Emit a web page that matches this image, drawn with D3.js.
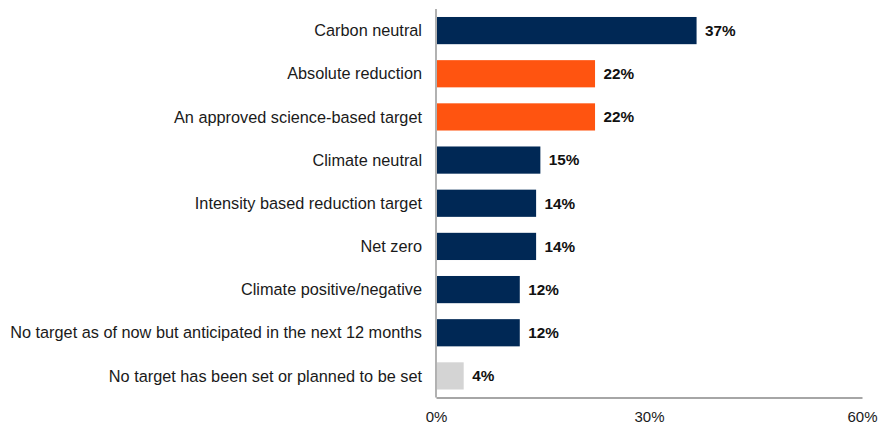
<!DOCTYPE html>
<html><head><meta charset="utf-8">
<script src="https://cdn.jsdelivr.net/npm/d3@7"></script>
<style>body{margin:0;background:#fff}svg{display:block}text{font-family:"Liberation Sans",Arial,sans-serif}</style>
</head><body><svg id="c" width="880" height="427"></svg>
<script>
const categories = ["Carbon neutral","Absolute reduction","An approved science-based target","Climate neutral","Intensity based reduction target","Net zero","Climate positive/negative","No target as of now but anticipated in the next 12 months","No target has been set or planned to be set"];
const values = [36.7,22.4,22.4,14.7,14.1,14.1,11.8,11.8,3.9];
const colorGroups = ["navy","orange","orange","navy","navy","navy","navy","navy","gray"];
const xTicks = [0,30,60];
const palette = {navy:"#002855", orange:"#FF5410", gray:"#D4D4D4"};

const svg = d3.select("#c");
const x = d3.scaleLinear().domain([0,60]).range([436,862]);
const y = d3.scaleBand().domain(categories).range([9,397.5]).paddingInner(0.37).paddingOuter(0.185);

svg.selectAll("rect.bar").data(categories).join("rect")
  .attr("class","bar")
  .attr("x", x(0)+1).attr("y", d=>y(d))
  .attr("width", (d,i)=>x(values[i])-x(0)-1)
  .attr("height", y.bandwidth())
  .attr("fill", (d,i)=>palette[colorGroups[i]]);

svg.selectAll("text.val").data(categories).join("text")
  .attr("class","val")
  .attr("x",(d,i)=>x(values[i])+8.5)
  .attr("y", d=>y(d)+y.bandwidth()/2)
  .attr("dy","0.35em")
  .attr("font-size",15.3).attr("font-weight","bold").attr("fill","#111")
  .text((d,i)=>Math.round(values[i])+"%");

svg.selectAll("text.cat").data(categories).join("text")
  .attr("class","cat")
  .attr("x",422)
  .attr("y", d=>y(d)+y.bandwidth()/2)
  .attr("dy","0.35em").attr("text-anchor","end")
  .attr("font-size",16.3).attr("fill","#1a1a1a")
  .text(d=>d);

const yAxis = d3.axisLeft(y).tickSize(0).tickFormat("");
const gy = svg.append("g").attr("transform",`translate(${x(0)},0)`).call(yAxis);
gy.select(".domain").attr("stroke","#888").attr("stroke-width",1.3).attr("d",`M0,9V397.5`);

const xAxis = d3.axisBottom(x).tickValues(xTicks).tickSize(0).tickPadding(14).tickFormat(d=>d+"%");
const gx = svg.append("g").attr("transform","translate(0,397.5)").call(xAxis);
gx.select(".domain").attr("stroke","#888").attr("stroke-width",1.3);
gx.selectAll("text").attr("font-size",15).attr("fill","#1a1a1a").attr("font-family","Liberation Sans, Arial, sans-serif");
</script></body></html>
